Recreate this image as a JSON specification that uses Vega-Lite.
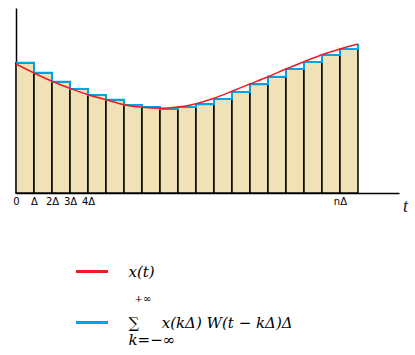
{
  "$schema": "https://vega.github.io/schema/vega-lite/v6.json",
  "width": 383,
  "height": 185,
  "autosize": {"type": "none"},
  "padding": {"left": 16, "top": 8, "right": 16, "bottom": 162},
  "background": "white",
  "config": {"view": {"stroke": null}, "axis": {"domainColor": "black", "domainWidth": 1.5, "ticks": false, "grid": false}},
  "datasets": {
    "bars": [
      {"t0": 0, "t1": 1, "v": 130.3}, {"t0": 1, "t1": 2, "v": 120.3}, {"t0": 2, "t1": 3, "v": 111.3},
      {"t0": 3, "t1": 4, "v": 104}, {"t0": 4, "t1": 5, "v": 98}, {"t0": 5, "t1": 6, "v": 93.3},
      {"t0": 6, "t1": 7, "v": 88}, {"t0": 7, "t1": 8, "v": 86}, {"t0": 8, "t1": 9, "v": 84},
      {"t0": 9, "t1": 10, "v": 86}, {"t0": 10, "t1": 11, "v": 88.7}, {"t0": 11, "t1": 12, "v": 94},
      {"t0": 12, "t1": 13, "v": 101}, {"t0": 13, "t1": 14, "v": 108.7}, {"t0": 14, "t1": 15, "v": 116.3},
      {"t0": 15, "t1": 16, "v": 124}, {"t0": 16, "t1": 17, "v": 131}, {"t0": 17, "t1": 18, "v": 138},
      {"t0": 18, "t1": 19, "v": 144}
    ],
    "lines": [
      {"series": "sum", "t": 0, "v": 130.3}, {"series": "sum", "t": 1, "v": 120.3}, {"series": "sum", "t": 2, "v": 111.3},
      {"series": "sum", "t": 3, "v": 104}, {"series": "sum", "t": 4, "v": 98}, {"series": "sum", "t": 5, "v": 93.3},
      {"series": "sum", "t": 6, "v": 88}, {"series": "sum", "t": 7, "v": 86}, {"series": "sum", "t": 8, "v": 84},
      {"series": "sum", "t": 9, "v": 86}, {"series": "sum", "t": 10, "v": 88.7}, {"series": "sum", "t": 11, "v": 94},
      {"series": "sum", "t": 12, "v": 101}, {"series": "sum", "t": 13, "v": 108.7}, {"series": "sum", "t": 14, "v": 116.3},
      {"series": "sum", "t": 15, "v": 124}, {"series": "sum", "t": 16, "v": 131}, {"series": "sum", "t": 17, "v": 138},
      {"series": "sum", "t": 18, "v": 144}, {"series": "sum", "t": 19, "v": 149},
      {"series": "x(t)", "t": 0, "v": 129}, {"series": "x(t)", "t": 1, "v": 120}, {"series": "x(t)", "t": 2, "v": 111.7},
      {"series": "x(t)", "t": 3, "v": 104.7}, {"series": "x(t)", "t": 4, "v": 98.3}, {"series": "x(t)", "t": 5, "v": 93.3},
      {"series": "x(t)", "t": 6, "v": 88.3}, {"series": "x(t)", "t": 7, "v": 85.7}, {"series": "x(t)", "t": 8, "v": 84.7},
      {"series": "x(t)", "t": 9, "v": 86}, {"series": "x(t)", "t": 10, "v": 89.3}, {"series": "x(t)", "t": 11, "v": 94.7},
      {"series": "x(t)", "t": 12, "v": 101.7}, {"series": "x(t)", "t": 13, "v": 109}, {"series": "x(t)", "t": 14, "v": 116.3},
      {"series": "x(t)", "t": 15, "v": 124}, {"series": "x(t)", "t": 16, "v": 131.3}, {"series": "x(t)", "t": 17, "v": 138.3},
      {"series": "x(t)", "t": 18, "v": 144}, {"series": "x(t)", "t": 19, "v": 149}
    ]
  },
  "layer": [
    {
      "data": {"name": "bars"},
      "mark": {"type": "bar", "fill": "#F0E2B4", "stroke": "black", "strokeWidth": 1.5},
      "encoding": {
        "x": {
          "field": "t0", "type": "quantitative",
          "scale": {"domain": [0, 21.28], "nice": false, "zero": false},
          "axis": {
            "values": [0, 1, 2, 3, 4, 18],
            "labelExpr": "datum.value == 0 ? '0' : datum.value == 1 ? 'Δ' : datum.value == 18 ? 'nΔ' : datum.value + 'Δ'",
            "labelFont": "DejaVu Sans", "labelFontSize": 10, "labelColor": "black",
            "labelPadding": 3, "labelFlush": false, "labelOverlap": false,
            "ticks": false, "grid": false,
            "domainColor": "black", "domainWidth": 1.5,
            "title": "t", "titleFont": "Liberation Serif", "titleFontStyle": "italic",
            "titleFontWeight": "normal", "titleFontSize": 18, "titleColor": "#222",
            "titleX": 389, "titleY": 18, "titleAlign": "center", "titleBaseline": "alphabetic"
          }
        },
        "x2": {"field": "t1"},
        "y": {
          "field": "v", "type": "quantitative",
          "scale": {"domain": [0, 185], "nice": false},
          "axis": {"labels": false, "ticks": false, "grid": false, "title": null, "domainColor": "black", "domainWidth": 1.5}
        },
        "y2": {"datum": 0}
      }
    },
    {
      "data": {"name": "lines"},
      "transform": [{"filter": "datum.series == 'sum'"}],
      "mark": {"type": "line", "interpolate": "step-after", "strokeWidth": 2},
      "encoding": {
        "x": {"field": "t", "type": "quantitative"},
        "y": {"field": "v", "type": "quantitative"},
        "stroke": {
          "field": "series", "type": "nominal",
          "scale": {"domain": ["sum"], "range": ["#00A2E8"]},
          "legend": {
            "orient": "none", "legendX": 58.5, "legendY": 286,
            "title": "\u200b\u2003\u2003\u2003\u2003\u2003\u2003+∞",
            "titleFont": "DejaVu Serif", "titleFontSize": 10, "titleFontWeight": "normal", "titleColor": "black",
            "titlePadding": 1, "titleAnchor": "start", "titleOrient": "top",
            "direction": "vertical", "padding": 0, "offset": 0,
            "symbolType": "stroke", "symbolSize": 1024, "symbolStrokeWidth": 3,
            "labelExpr": "['∑\u2003\u2002x(kΔ) W(t − kΔ)Δ', 'k=−∞']",
            "labelFont": "DejaVu Serif", "labelFontStyle": "italic", "labelFontSize": 15,
            "labelColor": "black", "labelOffset": 19, "labelLimit": 400
          }
        }
      }
    },
    {
      "data": {"name": "lines"},
      "transform": [{"filter": "datum.series == 'x(t)'"}],
      "mark": {"type": "line", "interpolate": "monotone", "strokeWidth": 1.5},
      "encoding": {
        "x": {"field": "t", "type": "quantitative"},
        "y": {"field": "v", "type": "quantitative"},
        "color": {
          "field": "series", "type": "nominal",
          "scale": {"domain": ["x(t)"], "range": ["#ED1C24"]},
          "legend": {
            "orient": "none", "legendX": 58.5, "legendY": 246, "title": null,
            "direction": "vertical", "padding": 0, "offset": 0,
            "symbolType": "stroke", "symbolSize": 1024, "symbolStrokeWidth": 3,
            "labelFont": "DejaVu Serif", "labelFontStyle": "italic", "labelFontSize": 15,
            "labelColor": "black", "labelOffset": 19, "labelLimit": 400
          }
        }
      }
    },
    {
      "mark": {"type": "point", "shape": "M-1,-0.75L0,0L-1,0.75", "size": 64, "filled": false, "stroke": "black", "strokeWidth": 1.5, "opacity": 1},
      "encoding": {"x": {"datum": 21.28}, "y": {"datum": 0}}
    },
    {
      "mark": {"type": "point", "shape": "M-0.75,1L0,0L0.75,1", "size": 64, "filled": false, "stroke": "black", "strokeWidth": 1.5, "opacity": 1},
      "encoding": {"x": {"datum": 0}, "y": {"datum": 185}}
    }
  ]
}
